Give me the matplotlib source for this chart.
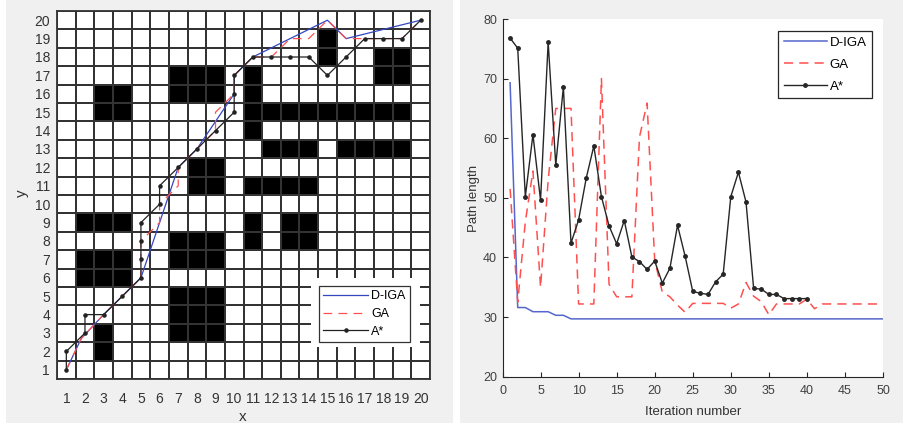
import numpy as np
import matplotlib
matplotlib.use('Agg')
import matplotlib.pyplot as plt
from matplotlib.colors import ListedColormap
from matplotlib.patches import Rectangle

plt.rcParams['font.family'] = ['Liberation Sans', 'DejaVu Sans']

# ---- left: grid map, obstacle blocks as (x_from, x_to, y_from, y_to) in cells
blocks = [(3, 4, 15, 16), (7, 9, 16, 17), (8, 9, 11, 12), (11, 11, 14, 17),
          (11, 19, 15, 15), (12, 14, 13, 13), (16, 19, 13, 13), (11, 14, 11, 11),
          (18, 19, 17, 18), (15, 15, 18, 19), (2, 4, 9, 9), (2, 4, 6, 7),
          (3, 3, 2, 3), (7, 9, 7, 8), (7, 9, 3, 5), (11, 11, 8, 9), (13, 14, 8, 9)]

diga_x = [1, 1.8, 3, 4, 5, 7, 8, 10, 10, 11, 15, 16, 20]
diga_y = [1, 2.7, 4, 5, 6, 12, 13, 16, 17, 18, 20, 19, 20]
ga_x = [1, 1.8, 3, 4, 5, 5, 5, 6, 6, 7, 7, 8, 9, 9, 10, 10, 11, 12, 13, 14, 15, 16, 17, 18, 19, 20]
ga_y = [1, 2.7, 4, 5, 6, 7, 8, 9, 10, 11, 12, 13, 14, 15, 16, 17, 18, 18, 19, 19, 20, 19, 19, 19, 19, 20]
astar_x = [1, 1, 2, 2, 3, 4, 5, 5, 5, 5, 6, 6, 7, 8, 9, 10, 10, 10, 11, 12, 13, 14, 15, 16, 17, 18, 19, 20]
astar_y = [1, 2, 3, 4, 4, 5, 6, 7, 8, 9, 10, 11, 12, 13, 14, 15, 16, 17, 18, 18, 18, 18, 17, 18, 19, 19, 19, 20]

# ---- right: convergence curves
it_all = np.arange(1, 51)
diga_len = [69.3, 31.6, 31.6, 30.9, 30.9, 30.9, 30.3, 30.3, 29.7, 29.7,
            29.7, 29.7, 29.7, 29.7, 29.7, 29.7, 29.7, 29.7, 29.7, 29.7,
            29.7, 29.7, 29.7, 29.7, 29.7, 29.7, 29.7, 29.7, 29.7, 29.7,
            29.7, 29.7, 29.7, 29.7, 29.7, 29.7, 29.7, 29.7, 29.7, 29.7,
            29.7, 29.7, 29.7, 29.7, 29.7, 29.7, 29.7, 29.7, 29.7, 29.7]
ga_len = [51.5, 32.5, 46.0, 54.5, 35.0, 53.0, 65.0, 65.0, 65.0, 32.2,
          32.2, 32.2, 70.0, 35.5, 33.4, 33.4, 33.4, 60.2, 65.9, 39.5,
          34.2, 33.4, 32.0, 30.8, 32.3, 32.3, 32.3, 32.3, 32.3, 31.5,
          32.2, 35.8, 33.5, 32.6, 30.4, 32.2, 32.2, 32.2, 32.2, 33.0,
          31.4, 32.2, 32.2, 32.2, 32.2, 32.2, 32.2, 32.2, 32.2, 32.2]
it_astar = np.arange(1, 41)
astar_len = [76.8, 75.1, 50.2, 60.6, 49.6, 76.1, 55.5, 68.6, 42.4, 46.3,
             53.3, 58.7, 50.2, 45.3, 42.3, 46.2, 40.1, 39.3, 38.0, 39.4,
             35.7, 38.2, 45.4, 40.2, 34.3, 34.0, 33.8, 35.9, 37.2, 50.2,
             54.3, 49.3, 34.8, 34.7, 33.8, 33.8, 33.1, 33.1, 33.1, 33.1]

W, H = 904, 423
bg = '#f0f0f0'
dark = '#333333'
blue = '#5566cc'
red = '#ff5050'

fig = plt.figure(figsize=(W / 100, H / 100), dpi=100, facecolor='white')
fig.add_artist(Rectangle((6 / W, 0), (453 - 6) / W, 1, transform=fig.transFigure,
                         facecolor=bg, edgecolor='none', zorder=-10))
fig.add_artist(Rectangle((460 / W, 0), (W - 460) / W, 1, transform=fig.transFigure,
                         facecolor=bg, edgecolor='none', zorder=-10))

# ================= left panel =================
axL = fig.add_axes([57 / W, (H - 379) / H, 373 / W, 368 / H])
occ = np.zeros((20, 20))
for x0, x1, y0, y1 in blocks:
    occ[y0 - 1:y1, x0 - 1:x1] = 1
edges = np.arange(0.5, 21.5, 1)
axL.pcolormesh(edges, edges, occ, cmap=ListedColormap(['white', 'black']),
               vmin=0, vmax=1, edgecolors=dark, linewidth=1.2)
axL.add_patch(Rectangle((0.680, 0.087), 0.293, 0.188, transform=axL.transAxes,
                        facecolor='white', edgecolor='none', zorder=3))

axL.plot(diga_x, diga_y, color='#3347c0', lw=0.9, label='D-IGA', zorder=4)
axL.plot(ga_x, ga_y, color=red, lw=0.9, dashes=(7, 5), label='GA', zorder=4)
axL.plot(astar_x, astar_y, color='#222222', lw=0.9, marker='.', ms=4.5,
         label='A*', zorder=4)

axL.set_xlim(0.5, 20.5)
axL.set_ylim(0.5, 20.5)
axL.set_xticks(range(1, 21))
axL.set_yticks(range(1, 21))
axL.tick_params(length=0, labelsize=10, labelcolor='#333333')
axL.tick_params(axis='x', pad=9)
axL.tick_params(axis='y', pad=5)
for s in axL.spines.values():
    s.set_color(dark)
    s.set_linewidth(1.3)
legL = axL.legend(loc='upper left', bbox_to_anchor=(0.702, 0.2527), fontsize=9,
                  fancybox=False, framealpha=1, edgecolor=dark, borderpad=0.35,
                  labelspacing=0.45, handlelength=3.6, handletextpad=0.25,
                  borderaxespad=0)
legL.get_frame().set_linewidth(0.9)
legL.set_zorder(6)

fig.text(243 / W, 1 - 417 / H, 'x', fontsize=11, color='#333333', ha='center', va='center')
fig.text(21.7 / W, 1 - 193 / H, 'y', fontsize=11, color='#333333', ha='center',
         va='center', rotation=90)

# ================= right panel =================
axR = fig.add_axes([502.5 / W, (H - 376.7) / H, 380.5 / W, 357.7 / H])
axR.plot(it_all, diga_len, color=blue, lw=1.1, label='D-IGA')
axR.plot(it_all, ga_len, color=red, lw=1.1, dashes=(6, 4), label='GA')
axR.plot(it_astar, astar_len, color='#262626', lw=1.0, marker='.', ms=5, label='A*')

axR.set_xlim(0, 50)
axR.set_ylim(20, 80)
axR.set_xticks(range(0, 51, 5))
axR.set_yticks(range(20, 81, 10))
axR.spines['top'].set_visible(False)
axR.spines['right'].set_visible(False)
for s in ['left', 'bottom']:
    axR.spines[s].set_color('#262626')
    axR.spines[s].set_linewidth(0.8)
axR.tick_params(direction='in', length=3.5, width=0.8, color='#262626',
                labelsize=9, labelcolor='#404040')
axR.tick_params(axis='x', pad=6)
axR.tick_params(axis='y', pad=4)
legR = axR.legend(loc='upper right', bbox_to_anchor=(0.971, 0.966), fontsize=9.5,
                  fancybox=False, framealpha=1, edgecolor='#262626', borderpad=0.4,
                  labelspacing=0.75, handlelength=3.3, handletextpad=0.2,
                  borderaxespad=0)
legR.get_frame().set_linewidth(0.9)

fig.text(692.7 / W, 1 - 412 / H, 'Iteration number', fontsize=9.5, color='#333333',
         ha='center', va='center')
fig.text(474 / W, 1 - 198 / H, 'Path length', fontsize=9.5, color='#333333',
         ha='center', va='center', rotation=90)

fig.savefig('out.png', dpi=100, facecolor=fig.get_facecolor())
